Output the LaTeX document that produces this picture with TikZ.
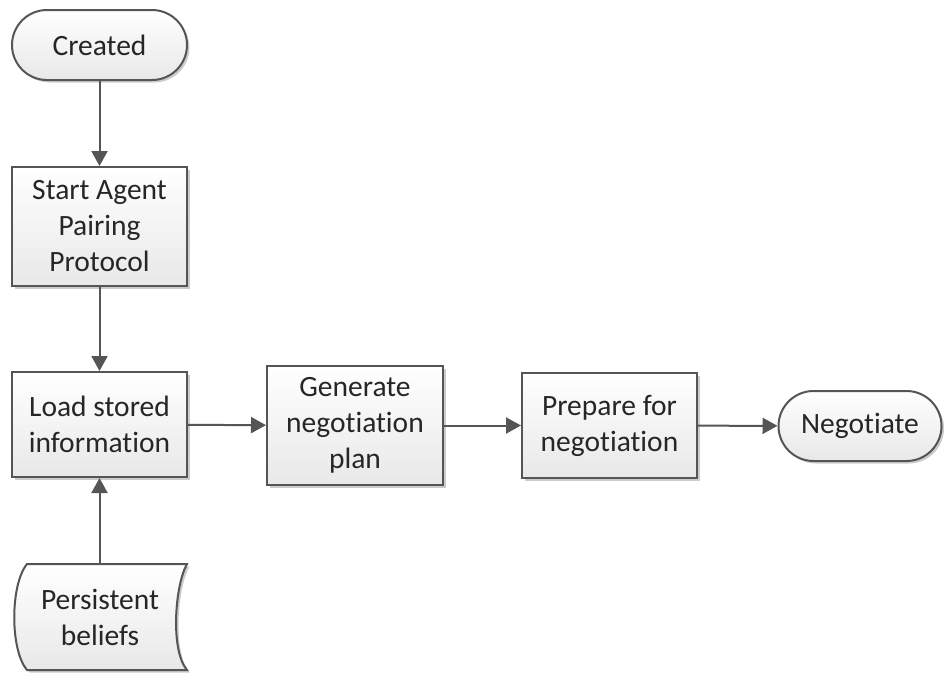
\documentclass[tikz,border=0pt]{standalone}
\usepackage{fontspec}
\setmainfont[Ligatures=NoCommon]{Carlito}
\usetikzlibrary{arrows.meta,shadows,positioning}
\definecolor{edge}{HTML}{555555}
\definecolor{ink}{HTML}{262626}
\tikzset{
  x=1pt, y=-1pt,
  label text/.style={text=ink, align=center, font=\fontsize{29.5}{36}\selectfont},
  shapebase/.style={draw=edge, line width=2pt, top color=white, bottom color=black!9,
    label text, inner sep=0pt,
    drop shadow={shadow xshift=2.5pt, shadow yshift=-2.5pt, opacity=0.2, fill=black}},
  procbox/.style={shapebase, rectangle, minimum width=175pt},
  termbox/.style={shapebase, rectangle, rounded corners=35pt, minimum height=70pt},
  flow/.style={draw=edge, line width=2pt, -{Triangle[length=15pt,width=16pt]}},
}
\begin{document}
\begin{tikzpicture}
\useasboundingbox (0,0) rectangle (944,673);

% terminators
\node[termbox, minimum width=175pt] (created) at (99.5,45) {Created};
\node[termbox, minimum width=163pt] (negotiate) at (860,426) {Negotiate};

% process boxes
\node[procbox, minimum height=119pt] (start) at (99.5,226.5) {Start Agent\\Pairing\\Protocol};
\node[procbox, minimum height=105pt] (load) at (99.5,424.5) {Load stored\\information};
\node[procbox, minimum width=176pt, minimum height=119pt] (gen) at (355,425.5) {Generate\\negotiation\\plan};
\node[procbox, minimum height=105pt] (prep) at (609.5,425.5) {Prepare for\\negotiation};

% stored-data shape
\path[shapebase] (27,564) -- (187,564)
  .. controls (175,585) and (170,650) .. (187,670)
  -- (27,670)
  .. controls (10,650) and (10,585) .. (27,564) -- cycle;
\node[label text, inner sep=0pt, minimum width=150pt, minimum height=106pt] (beliefs) at (100,617) {Persistent\\beliefs};
\coordinate (beliefstop) at (99.5,564);

% connectors
\draw[flow] (created) -- (start);
\draw[flow] (start) -- (load);
\draw[flow] (beliefstop) -- (load);
\draw[flow] (load) -- (gen);
\draw[flow] (gen) -- (prep);
\draw[flow] (prep) -- (negotiate);
\end{tikzpicture}
\end{document}
